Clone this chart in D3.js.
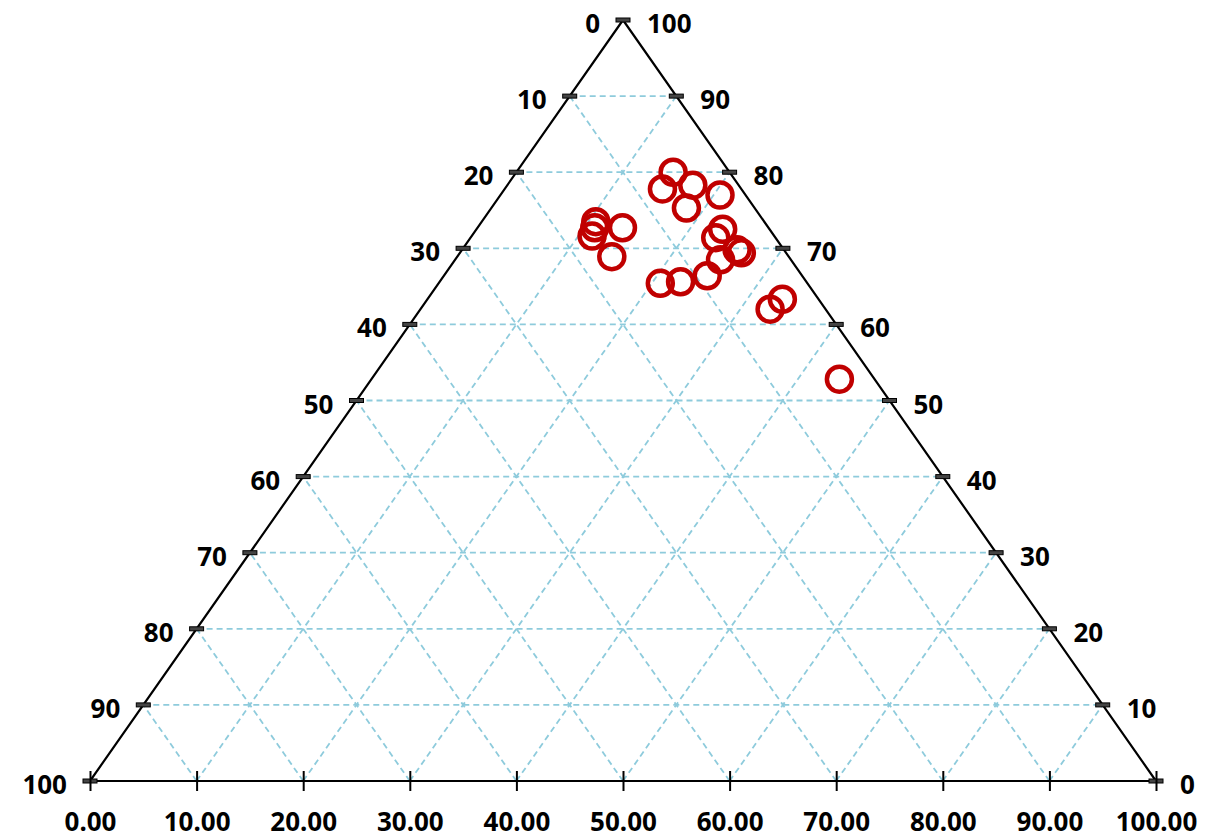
<!DOCTYPE html>
<html><head><meta charset="utf-8">
<script src="https://cdn.jsdelivr.net/npm/d3@7"></script>
<style>
html,body{margin:0;padding:0;background:#fff;}
svg text{font-family:"Noto Sans","Open Sans",sans-serif;font-weight:bold;fill:#000;}
</style></head>
<body>
<svg id="chart" width="1207" height="838"></svg>
<script>
// Ternary components (percent) for each sample
const compTop   = [80.0, 77.8, 78.3, 77.0, 75.3, 73.5, 72.7, 71.6, 72.7, 68.9, 72.5, 71.4, 69.8, 69.4, 68.5, 66.4, 65.6, 65.4, 63.3, 62.0, 52.8];
const compRight = [14.7, 14.8, 17.4, 20.6, 18.3, 10.7, 11.0, 11.3, 13.6, 14.5, 23.1, 23.0, 25.8, 26.4, 24.9, 24.7, 22.6, 20.8, 33.3, 32.8, 43.9];
const gridValues = [10, 20, 30, 40, 50, 60, 70, 80, 90];
const sideTickValues = [0, 10, 20, 30, 40, 50, 60, 70, 80, 90, 100];
const bottomTickLabels = ["0.00","10.00","20.00","30.00","40.00","50.00","60.00","70.00","80.00","90.00","100.00"];

const svg = d3.select("#chart");
const pLeft = 90, pRight = 1156, pTop = 20, pBottom = 781;

const xs = d3.scaleLinear().domain([0, 100]).range([pLeft, pRight]);
const ys = d3.scaleLinear().domain([0, 100]).range([pBottom, pTop]);
// barycentric -> pixel: R = right share, T = top share
const px = (R, T) => xs(R + T / 2);
const py = (T) => ys(T);

const gridColor = "#8ecbdc";
const g = svg.append("g");

function gridLine(x1, y1, x2, y2) {
  g.append("line").attr("x1", x1).attr("y1", y1).attr("x2", x2).attr("y2", y2)
    .attr("stroke", gridColor).attr("stroke-width", 1.8).attr("stroke-dasharray", "6,4");
}
gridValues.forEach(v => {
  gridLine(px(0, v), py(v), px(100 - v, v), py(v));             // T = v
  gridLine(px(v, 0), py(0), px(v, 100 - v), py(100 - v));       // R = v
  gridLine(px(100 - v, 0), py(0), px(0, 100 - v), py(100 - v)); // L = v
});

// triangle frame
g.append("path")
  .attr("d", `M${px(0,0)},${py(0)}L${px(100,0)},${py(0)}L${px(0,100)},${py(100)}Z`)
  .attr("fill", "none").attr("stroke", "#000").attr("stroke-width", 2.2);

// bottom ticks & labels
const bottomAxis = d3.axisBottom(xs).tickValues(sideTickValues).tickSize(0).tickFormat((d, i) => bottomTickLabels[i]);
const ba = svg.append("g").attr("transform", `translate(0,${pBottom})`).call(bottomAxis);
ba.attr("font-family", null).attr("font-size", null);
ba.select(".domain").remove();
ba.selectAll(".tick text").attr("font-size", 26).attr("y", 50).attr("dy", 0).attr("fill", "#000");
ba.selectAll(".tick line").remove();
ba.selectAll(".tick").append("line").attr("y1", -10).attr("y2", 10).attr("stroke", "#000").attr("stroke-width", 2);

// side ticks
function sideTick(x, y) {
  g.append("rect").attr("x", x - 7).attr("y", y - 2).attr("width", 14).attr("height", 4)
    .attr("fill", "#444").attr("stroke", "#000").attr("stroke-width", 1);
}
sideTickValues.forEach(k => {
  const T = 100 - k;
  const lx = px(0, T), ly = py(T);
  sideTick(lx, ly);
  g.append("text").attr("x", lx - 23).attr("y", ly + 3).attr("text-anchor", "end")
    .attr("dominant-baseline", "central").attr("font-size", 26).text(k);
  const rx = px(100 - k, k), ry = py(k);
  if (k !== 100) sideTick(rx, ry);
  g.append("text").attr("x", rx + 24).attr("y", ry + 3).attr("text-anchor", "start")
    .attr("dominant-baseline", "central").attr("font-size", 26).text(k);
});

// data points
svg.append("g").selectAll("circle").data(compTop.map((t, i) => ({T: t, R: compRight[i]})))
  .join("circle")
  .attr("cx", d => px(d.R, d.T)).attr("cy", d => py(d.T)).attr("r", 12.5)
  .attr("fill", "none").attr("stroke", "#c00000").attr("stroke-width", 4.5);
</script>
</body></html>
